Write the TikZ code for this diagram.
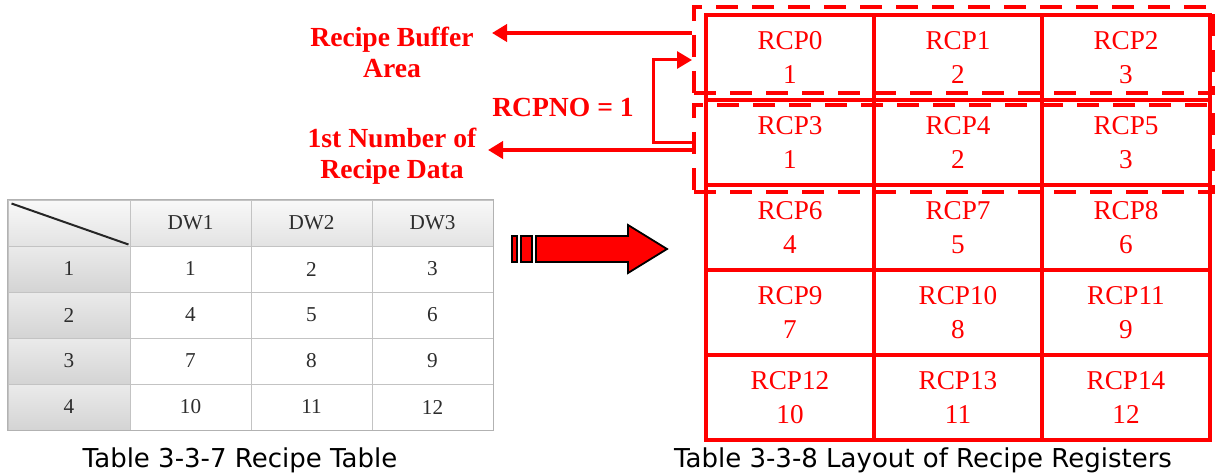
\documentclass[tikz,border=0pt]{standalone}
\usepackage{fontspec}
\setmainfont{Liberation Serif}
\newfontfamily\capfont{DejaVu Sans}
\usepackage{tikz}
\usetikzlibrary{arrows.meta, positioning, calc}
\definecolor{RegRed}{RGB}{255, 0, 0}
\definecolor{GridGray}{RGB}{195, 195, 195}
\definecolor{TabText}{RGB}{45, 45, 45}

\begin{document}
\begin{tikzpicture}[x=0.5pt, y=-0.5pt,
  reg/.style={draw=RegRed, line width=1.7pt, text=RegRed, align=center, inner sep=0pt, minimum width=84pt, minimum height=42.5pt, font=\fontsize{13.6}{17}\selectfont},
  grp/.style={draw=RegRed, line width=2pt, dash pattern=on 11pt off 7pt, minimum width=259.5pt, inner sep=0pt},
  cell/.style={draw=GridGray, line width=0.5pt, fill=white, text=TabText, inner sep=0pt, minimum width=60.5pt, minimum height=23pt, font=\fontsize{10.6}{12}\selectfont},
  colh/.style={cell, top color=gray!5, bottom color=gray!22},
  rowh/.style={cell, minimum width=61pt, top color=gray!16, bottom color=gray!34},
  lab/.style={text=RegRed, align=center, font=\fontsize{13.8}{15.5}\selectfont\bfseries},
  captxt/.style={font=\capfont\fontsize{13}{15}\selectfont},
  arr/.style={-{Triangle[length=7.5pt, width=8.5pt]}, RegRed, line width=2pt},
  barr/.style={-{Triangle[length=7.5pt, width=8.5pt]}, RegRed, line width=1.5pt},
  blk/.style={draw=black, fill=RegRed, line width=0.9pt}]
\fill[white] (0,0) rectangle (1216,476);
\useasboundingbox (0,0) rectangle (1216,476);
\node[colh, minimum width=61pt] (h0) at (69, 223) {};
\node[colh] (h1) at (190.5, 223) {DW1};
\node[colh] (h2) at (311.5, 223) {DW2};
\node[colh] (h3) at (432.5, 223) {DW3};
\node[rowh] (s1) at (69, 269) {1};
\node[rowh] (s2) at (69, 315) {2};
\node[rowh] (s3) at (69, 361) {3};
\node[rowh] (s4) at (69, 407) {4};
\node[cell] (v1) at (190.5, 269) {1};
\node[cell] (v2) at (311.5, 269) {2};
\node[cell] (v3) at (432.5, 269) {3};
\node[cell] (v4) at (190.5, 315) {4};
\node[cell] (v5) at (311.5, 315) {5};
\node[cell] (v6) at (432.5, 315) {6};
\node[cell] (v7) at (190.5, 361) {7};
\node[cell] (v8) at (311.5, 361) {8};
\node[cell] (v9) at (432.5, 361) {9};
\node[cell] (v10) at (190.5, 407) {10};
\node[cell] (v11) at (311.5, 407) {11};
\node[cell] (v12) at (432.5, 407) {12};
\draw[gray!60, line width=0.8pt] (h0.north west) rectangle (v12.south east);
\draw[black!85, line width=1pt] ([shift={(2pt,-2pt)}]h0.north west) -- ([shift={(-1pt,1pt)}]h0.south east);
\draw[blk] (512,236) rectangle (517,262);
\draw[blk] (521,236) rectangle (532,262);
\draw[blk] (536,236) -- (628,236) -- (628,225) -- (667,249) -- (628,273) -- (628,262) -- (536,262) -- cycle;
\node[reg] (r0) at (790, 57.5) {RCP0\\1};
\node[reg] (r1) at (958, 57.5) {RCP1\\2};
\node[reg] (r2) at (1126, 57.5) {RCP2\\3};
\node[reg] (r3) at (790, 142.5) {RCP3\\1};
\node[reg] (r4) at (958, 142.5) {RCP4\\2};
\node[reg] (r5) at (1126, 142.5) {RCP5\\3};
\node[reg] (r6) at (790, 227.5) {RCP6\\4};
\node[reg] (r7) at (958, 227.5) {RCP7\\5};
\node[reg] (r8) at (1126, 227.5) {RCP8\\6};
\node[reg] (r9) at (790, 312.5) {RCP9\\7};
\node[reg] (r10) at (958, 312.5) {RCP10\\8};
\node[reg] (r11) at (1126, 312.5) {RCP11\\9};
\node[reg] (r12) at (790, 397.5) {RCP12\\10};
\node[reg] (r13) at (958, 397.5) {RCP13\\11};
\node[reg] (r14) at (1126, 397.5) {RCP14\\12};
\node[grp, minimum height=43pt] (rba) at (953.5, 50) {};
\node[grp, minimum height=43.5pt] (rdat) at (953.5, 148.5) {};
\node[lab] (lba) at (392, 52) {Recipe Buffer\\Area};
\node[lab] (lno) at (563, 107) {RCPNO = 1};
\node[lab] (ldat) at (392, 156) {1st Number of\\Recipe Data};
\coordinate (tba) at (492, 33);
\coordinate (tdat) at (488, 150);
\coordinate (lp) at (653, 143);
\coordinate (lq) at (653, 60);
\draw[arr] (rba.west |- tba) -- (tba); \draw[arr] (rdat.west |- tdat) -- (tdat);
\draw[barr] (rdat.west |- lp) -- (lp) -- (lq) -- (rba.west |- lq);
\node[captxt] (cp1) at (240, 460) {Table 3-3-7 Recipe Table};
\node[captxt] (cp2) at (923, 460) {Table 3-3-8 Layout of Recipe Registers};
\end{tikzpicture}
\end{document}
